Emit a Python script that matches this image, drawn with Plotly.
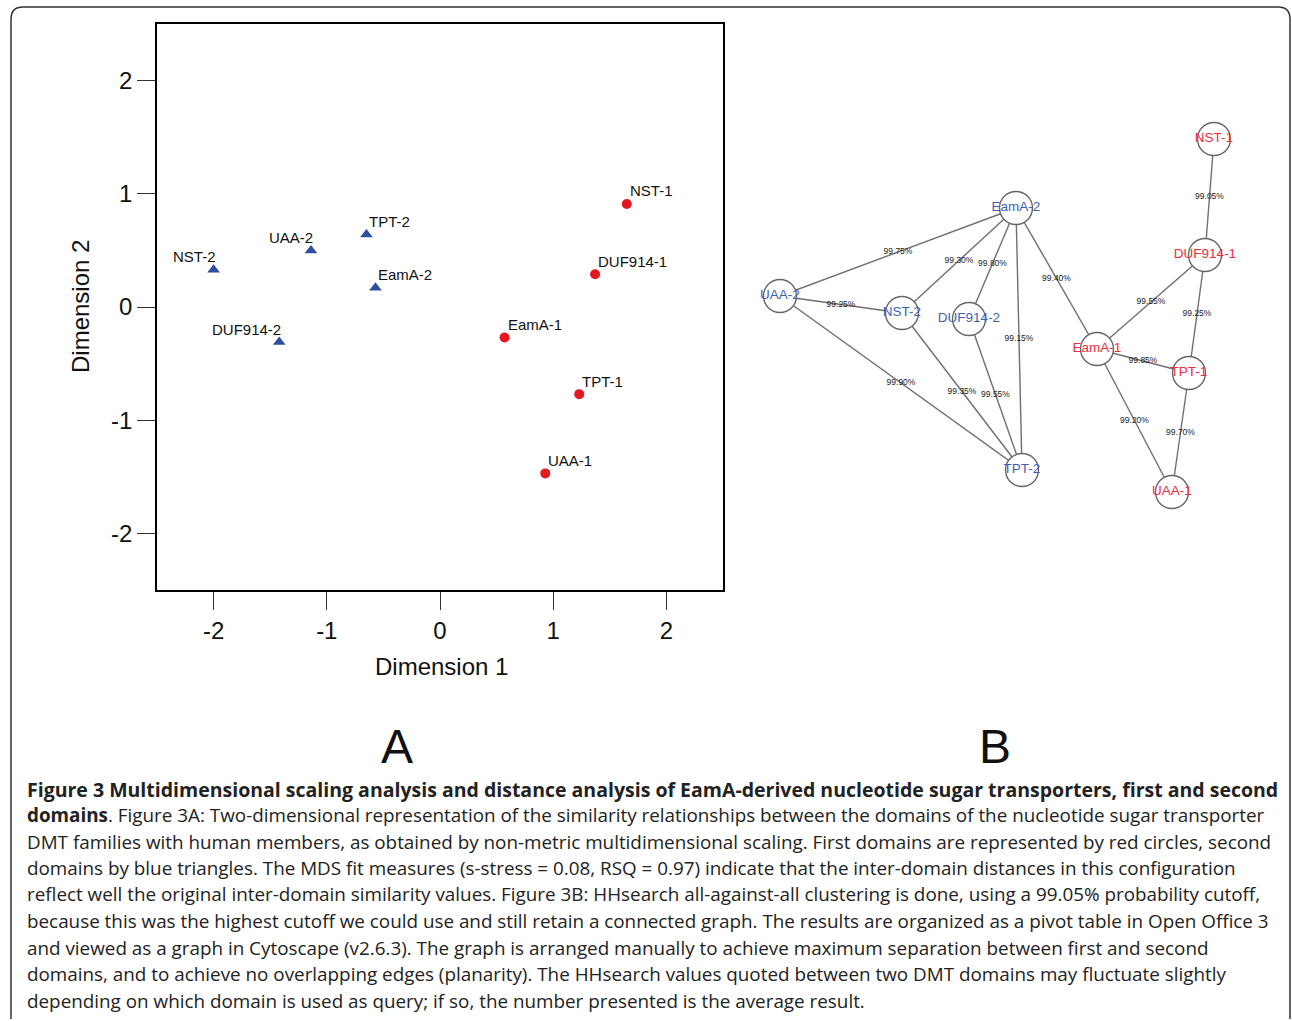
import plotly.graph_objects as go

W, H = 1292, 1021

# ---------------- Panel A data (MDS) ----------------
first_names = ["NST-1", "DUF914-1", "EamA-1", "TPT-1", "UAA-1"]
first_dim1 = [1.65, 1.37, 0.57, 1.23, 0.93]
first_dim2 = [0.91, 0.29, -0.27, -0.77, -1.47]

second_names = ["NST-2", "UAA-2", "TPT-2", "EamA-2", "DUF914-2"]
second_dim1 = [-2.00, -1.14, -0.65, -0.57, -1.42]
second_dim2 = [0.33, 0.50, 0.64, 0.17, -0.31]

tick_vals = [-2, -1, 0, 1, 2]
tick_text = ["-2", "-1", "0", "1", "2"]

# ---------------- Panel B data (network) ----------------
node_names = ["NST-1", "DUF914-1", "EamA-1", "TPT-1", "UAA-1",
              "EamA-2", "UAA-2", "NST-2", "DUF914-2", "TPT-2"]
node_x = [1214, 1205, 1097, 1189, 1172, 1016, 780, 902, 969, 1022]
node_y = [139, 255, 349, 373, 492, 208, 296, 313, 319, 470]
node_domain = [1, 1, 1, 1, 1, 2, 2, 2, 2, 2]

edge_from = ["UAA-2", "UAA-2", "UAA-2", "NST-2", "DUF914-2", "EamA-2", "NST-2",
             "DUF914-2", "EamA-2", "NST-1", "DUF914-1", "DUF914-1", "EamA-1",
             "EamA-1", "TPT-1"]
edge_to = ["EamA-2", "NST-2", "TPT-2", "EamA-2", "EamA-2", "TPT-2", "TPT-2",
           "TPT-2", "EamA-1", "DUF914-1", "EamA-1", "TPT-1", "TPT-1",
           "UAA-1", "UAA-1"]
edge_prob = ["99.75%", "99.25%", "99.90%", "99.30%", "99.80%", "99.15%", "99.35%",
             "99.55%", "99.40%", "99.05%", "99.55%", "99.25%", "99.85%",
             "99.20%", "99.70%"]

caption_title = ("Figure 3 Multidimensional scaling analysis and distance analysis of "
                 "EamA-derived nucleotide sugar transporters, first and second")
caption_lines = [
    "<b>domains</b>. Figure 3A: Two-dimensional representation of the similarity relationships between the domains of the nucleotide sugar transporter",
    "DMT families with human members, as obtained by non-metric multidimensional scaling. First domains are represented by red circles, second",
    "domains by blue triangles. The MDS fit measures (s-stress = 0.08, RSQ = 0.97) indicate that the inter-domain distances in this configuration",
    "reflect well the original inter-domain similarity values. Figure 3B: HHsearch all-against-all clustering is done, using a 99.05% probability cutoff,",
    "because this was the highest cutoff we could use and still retain a connected graph. The results are organized as a pivot table in Open Office 3",
    "and viewed as a graph in Cytoscape (v2.6.3). The graph is arranged manually to achieve maximum separation between first and second",
    "domains, and to achieve no overlapping edges (planarity). The HHsearch values quoted between two DMT domains may fluctuate slightly",
    "depending on which domain is used as query; if so, the number presented is the average result.",
]

# label side for panel A point labels (style only)
first_side = ["right", "right", "right", "right", "right"]
second_side = ["left", "left", "right", "right", "left"]

RED_M = "#e4191f"
BLUE_M = "#2e4e9e"
RED_T = "#ee2d3a"
BLUE_T = "#3f5fb5"
ARIAL = "Liberation Sans, Arial, sans-serif"
CAPF = "Open Sans, sans-serif"


def px(x):
    return x / W


def py(y):
    return 1 - y / H


fig = go.Figure()

# Panel A traces
fig.add_trace(go.Scatter(
    x=first_dim1, y=first_dim2, mode="markers",
    marker=dict(symbol="circle", size=10, color=RED_M),
    xaxis="x", yaxis="y", showlegend=False, cliponaxis=False, hoverinfo="skip"))
fig.add_trace(go.Scatter(
    x=second_dim1, y=second_dim2, mode="markers",
    marker=dict(symbol="triangle-up", size=11, color=BLUE_M),
    xaxis="x", yaxis="y", showlegend=False, cliponaxis=False, hoverinfo="skip"))

annotations = []
for names, xs, ys, sides in [(first_names, first_dim1, first_dim2, first_side),
                             (second_names, second_dim1, second_dim2, second_side)]:
    for n, xv, yv, s in zip(names, xs, ys, sides):
        annotations.append(dict(
            text=n, x=xv, y=yv, xref="x", yref="y", showarrow=False,
            xanchor="left" if s == "right" else "right", yanchor="middle",
            xshift=1 if s == "right" else 4, yshift=13,
            font=dict(family=ARIAL, size=15, color="#111")))

# Panel B: edges
pos = {n: (x, y) for n, x, y in zip(node_names, node_x, node_y)}
ex, ey, mx, my = [], [], [], []
for a, b in zip(edge_from, edge_to):
    (x0, y0), (x1, y1) = pos[a], pos[b]
    ex += [x0, x1, None]
    ey += [y0, y1, None]
    mx.append((x0 + x1) / 2)
    my.append((y0 + y1) / 2)

fig.add_trace(go.Scatter(
    x=ex, y=ey, mode="lines", line=dict(color="#707070", width=1.4),
    xaxis="x2", yaxis="y2", showlegend=False, hoverinfo="skip"))
fig.add_trace(go.Scatter(
    x=mx, y=my, mode="text", text=edge_prob,
    textfont=dict(family=ARIAL, size=8.5, color="#222"),
    xaxis="x2", yaxis="y2", showlegend=False, hoverinfo="skip", cliponaxis=False))
fig.add_trace(go.Scatter(
    x=node_x, y=node_y, mode="markers+text", text=node_names,
    textposition="middle center",
    marker=dict(symbol="circle", size=33, color="white",
                line=dict(color="#666", width=1.4)),
    textfont=dict(family=ARIAL, size=13.5,
                  color=[RED_T if d == 1 else BLUE_T for d in node_domain]),
    xaxis="x2", yaxis="y2", showlegend=False, hoverinfo="skip", cliponaxis=False))

axis_common = dict(showgrid=False, zeroline=False, showline=True, linecolor="black",
                   linewidth=1.5, mirror=True, ticks="outside", ticklen=18,
                   tickwidth=1.3, tickcolor="#333",
                   tickfont=dict(family=ARIAL, size=24, color="#111"),
                   tickvals=tick_vals, ticktext=tick_text)

annotations += [
    dict(text="Dimension 1", x=px(441), y=py(666), xref="paper", yref="paper",
         xanchor="center", yanchor="middle",
         showarrow=False, font=dict(family=ARIAL, size=24, color="#111")),
    dict(text="Dimension 2", x=px(81), y=py(307), xref="paper", yref="paper",
         xanchor="center", yanchor="middle",
         showarrow=False, textangle=-90, font=dict(family=ARIAL, size=24, color="#111")),
    dict(text="A", x=px(397), y=py(746), xref="paper", yref="paper",
         xanchor="center", yanchor="middle",
         showarrow=False, font=dict(family=ARIAL, size=48, color="#111")),
    dict(text="B", x=px(995), y=py(746), xref="paper", yref="paper",
         xanchor="center", yanchor="middle",
         showarrow=False, font=dict(family=ARIAL, size=48, color="#111")),
    dict(text="<b>" + caption_title + "</b>", x=px(25), y=py(789), xref="paper", yref="paper",
         xanchor="left", yanchor="middle", showarrow=False,
         font=dict(family=CAPF, size=19.5, color="#222")),
]
line_y = [815, 842, 868, 894, 921, 948, 974, 1001]
for t, yy in zip(caption_lines, line_y):
    annotations.append(dict(text=t, x=px(25), y=py(yy), xref="paper", yref="paper",
                            xanchor="left", yanchor="middle", showarrow=False,
                            font=dict(family=CAPF, size=18.85, color="#222")))

r = 12
L, T, R, B = 11, 7, 1290, 1019

fig.update_layout(
    width=W, height=H, margin=dict(l=0, r=0, t=0, b=0),
    paper_bgcolor="white", plot_bgcolor="white", showlegend=False,
    xaxis=dict(domain=[px(157), px(723)], range=[-2.5, 2.5], anchor="y", **axis_common),
    yaxis=dict(domain=[py(590), py(24)], range=[-2.5, 2.5], anchor="x", **axis_common),
    xaxis2=dict(domain=[px(740), px(1260)], range=[740, 1260], visible=False, anchor="y2"),
    yaxis2=dict(domain=[py(540), py(100)], range=[540, 100], visible=False, anchor="x2"),
    annotations=annotations,
)
fig.add_shape(type="path", xref="paper", yref="paper",
              path=(f"M {px(L)},{py(B)} L {px(L)},{py(T + r)} Q {px(L)},{py(T)} {px(L + r)},{py(T)} "
                    f"L {px(R - r)},{py(T)} Q {px(R)},{py(T)} {px(R)},{py(T + r)} L {px(R)},{py(B)}"),
              line=dict(color="#333", width=1.5))

fig.write_html("out.html", config={"displayModeBar": False},
               post_script="document.body.style.margin='0';document.documentElement.style.overflow='hidden';")
